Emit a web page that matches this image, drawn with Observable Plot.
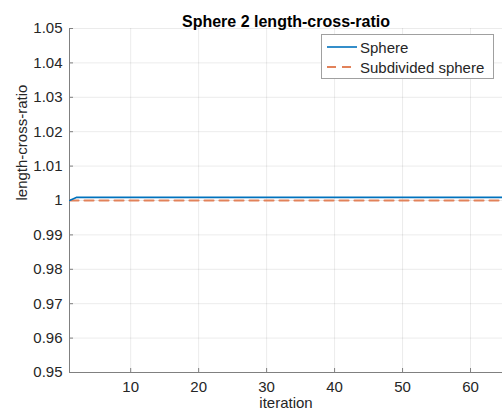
<!DOCTYPE html>
<html>
<head>
<meta charset="utf-8">
<script src="https://cdn.jsdelivr.net/npm/d3@7"></script>
<script src="https://cdn.jsdelivr.net/npm/@observablehq/plot@0.6"></script>
<style>
  html, body { margin: 0; padding: 0; background: #fff; }
  #wrap { position: relative; width: 502px; height: 415px; overflow: hidden; font-family: "Liberation Sans", Arial, Helvetica, sans-serif; }
  #legend { position: absolute; left: 321px; top: 34px; width: 171px; height: 43px; background: #fff; border: 1px solid #a0a0a0; font-size: 15px; color: #262626; }
  .row { position: absolute; left: 0; height: 20px; display: flex; align-items: center; }
  .row svg { margin-left: 5px; margin-right: 3px; }
</style>
</head>
<body>
<div id="wrap"></div>
<script>
const title = "Sphere 2 length-cross-ratio";
const xLabel = "iteration";
const yLabel = "length-cross-ratio";
const seriesNames = ["Sphere", "Subdivided sphere"];
const iterations = [1,2,3,4,5,6,7,8,9,10,11,12,13,14,15,16,17,18,19,20,21,22,23,24,25,26,27,28,29,30,31,32,33,34,35,36,37,38,39,40,41,42,43,44,45,46,47,48,49,50,51,52,53,54,55,56,57,58,59,60,61,62,63,64,65];
const sphere = [1.0000,1.0009,1.0009,1.0009,1.0009,1.0009,1.0009,1.0009,1.0009,1.0009,1.0009,1.0009,1.0009,1.0009,1.0009,1.0009,1.0009,1.0009,1.0009,1.0009,1.0009,1.0009,1.0009,1.0009,1.0009,1.0009,1.0009,1.0009,1.0009,1.0009,1.0009,1.0009,1.0009,1.0009,1.0009,1.0009,1.0009,1.0009,1.0009,1.0009,1.0009,1.0009,1.0009,1.0009,1.0009,1.0009,1.0009,1.0009,1.0009,1.0009,1.0009,1.0009,1.0009,1.0009,1.0009,1.0009,1.0009,1.0009,1.0009,1.0009,1.0009,1.0009,1.0009,1.0009,1.0009];
const subdivided = [1.0000,1.0000,1.0000,1.0000,1.0000,1.0000,1.0000,1.0000,1.0000,1.0000,1.0000,1.0000,1.0000,1.0000,1.0000,1.0000,1.0000,1.0000,1.0000,1.0000,1.0000,1.0000,1.0000,1.0000,1.0000,1.0000,1.0000,1.0000,1.0000,1.0000,1.0000,1.0000,1.0000,1.0000,1.0000,1.0000,1.0000,1.0000,1.0000,1.0000,1.0000,1.0000,1.0000,1.0000,1.0000,1.0000,1.0000,1.0000,1.0000,1.0000,1.0000,1.0000,1.0000,1.0000,1.0000,1.0000,1.0000,1.0000,1.0000,1.0000,1.0000,1.0000,1.0000,1.0000,1.0000];
const xTicks = [10, 20, 30, 40, 50, 60];
const yTicks = [0.95, 0.96, 0.97, 0.98, 0.99, 1, 1.01, 1.02, 1.03, 1.04, 1.05];
const yTickLabels = ["0.95", "0.96", "0.97", "0.98", "0.99", "1", "1.01", "1.02", "1.03", "1.04", "1.05"];
const colors = ["#0072BD", "#E2825A"];

const sphereData = iterations.map((x, i) => ({x, y: sphere[i]}));
const subData = iterations.map((x, i) => ({x, y: subdivided[i]}));

const chart = Plot.plot({
  width: 502,
  height: 415,
  marginTop: 28,
  marginBottom: 43,
  marginLeft: 69,
  marginRight: 0,
  style: { fontFamily: "'Liberation Sans', Arial, Helvetica, sans-serif", fontSize: "15px", color: "#262626", background: "#fff", overflow: "hidden" },
  x: { domain: [1, 65], range: [69, 504] },
  y: { domain: [0.95, 1.05] },
  marks: [
    Plot.gridX(xTicks, { stroke: "#000", strokeOpacity: 0.08 }),
    Plot.gridY(yTicks, { stroke: "#000", strokeOpacity: 0.08 }),
    Plot.axisX({ ticks: xTicks, tickSize: -4, tickPadding: 13, stroke: "#808080", label: null, fill: "#262626" }),
    Plot.axisY({ ticks: yTicks, tickSize: -4, tickPadding: 11, tickFormat: (d) => yTickLabels[yTicks.indexOf(d)], stroke: "#808080", label: null, fill: "#262626" }),
    Plot.ruleY([0.95], { stroke: "#808080" }),
    Plot.ruleX([1], { stroke: "#808080" }),
    Plot.line(subData, { x: "x", y: "y", stroke: colors[1], strokeWidth: 2.2, strokeDasharray: "9,6", clip: true }),
    Plot.line(sphereData, { x: "x", y: "y", stroke: colors[0], strokeWidth: 1.6, clip: true }),
    Plot.text([title], { frameAnchor: "top", dy: -13, fontWeight: "bold", fontSize: 16, fill: "#000" }),
    Plot.text([xLabel], { frameAnchor: "bottom", dy: 35, fontSize: 15, fill: "#262626" }),
    Plot.text([yLabel], { frameAnchor: "left", dx: -47, rotate: -90, fontSize: 15, fill: "#262626" })
  ]
});

const wrap = document.getElementById("wrap");
wrap.appendChild(chart);

const legend = document.createElement("div");
legend.id = "legend";
seriesNames.forEach((name, i) => {
  const row = document.createElement("div");
  row.className = "row";
  row.style.top = (i === 0 ? 2 : 22) + "px";
  const dash = i === 1 ? 'stroke-dasharray="9,6"' : '';
  row.innerHTML = `<svg width="30" height="10"><line x1="0" y1="5" x2="30" y2="5" stroke="${colors[i]}" stroke-width="${i === 1 ? 2 : 1.6}" ${dash}/></svg><span>${name}</span>`;
  legend.appendChild(row);
});
wrap.appendChild(legend);
</script>
</body>
</html>
